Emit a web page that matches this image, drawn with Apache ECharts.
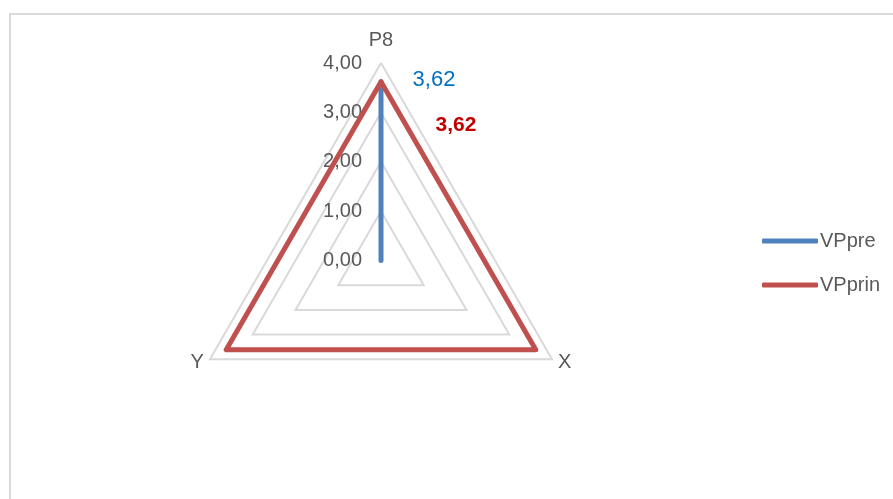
<!DOCTYPE html>
<html><head><meta charset="utf-8">
<script src="https://cdn.jsdelivr.net/npm/echarts@6/dist/echarts.min.js"></script>
<style>html,body{margin:0;padding:0;background:#fff}#c{width:893px;height:499px}</style>
</head><body><div id="c"></div>
<script>
// Data
const categories = ['P8', 'X', 'Y'];
const seriesNames = ['VPpre', 'VPprin'];
const vppre = [3.62, 0, 0];
const vpprin = [3.62, 3.62, 3.62];
const axisMin = 0, axisMax = 4, axisSplits = 4;

const fmt = v => Number(v).toFixed(2).replace('.', ',');
// ECharts places indicators counter-clockwise; Excel clockwise: reorder
const order = [0, 2, 1];
const perm = arr => order.map(i => arr[i]);

const FONT = '"Liberation Sans", Arial, sans-serif';
const GREY = '#595959';

const indicator = perm(categories).map((n, i) => ({
  name: n, min: axisMin, max: axisMax,
  nameGap: i === 0 ? 13 : 7,
  axisLabel: { show: i === 0 }
}));

const chart = echarts.init(document.getElementById('c'));
chart.setOption({
  animation: false,
  backgroundColor: '#fff',
  graphic: [{
    type: 'rect', left: 9, top: 13, z: -1,
    shape: { width: 900, height: 500 },
    style: { fill: '#fff', stroke: '#d9d9d9', lineWidth: 2 }
  }],
  legend: {
    data: seriesNames,
    orient: 'vertical',
    left: 762, top: 231, padding: 0,
    itemWidth: 56, itemHeight: 5, itemGap: 24,
    icon: 'roundRect',
    textStyle: { fontFamily: FONT, fontSize: 20, color: GREY, padding: [0, 0, 0, -3] }
  },
  radar: {
    center: [381, 260.5],
    radius: 197.5,
    shape: 'polygon',
    splitNumber: axisSplits,
    indicator: indicator,
    axisName: { color: GREY, fontFamily: FONT, fontSize: 20 },
    axisLine: { show: false },
    axisTick: { show: false },
    splitLine: { lineStyle: { color: '#d9d9d9', width: 2 } },
    splitArea: { show: false },
    axisLabel: {
      show: true, color: GREY, fontFamily: FONT, fontSize: 20,
      margin: 19, padding: [9, 0, 0, 0],
      formatter: v => fmt(v)
    }
  },
  series: [{
    type: 'radar',
    symbol: 'none',
    data: [
      { name: seriesNames[0], value: perm(vppre),
        lineStyle: { color: '#4f81bd', width: 5, cap: 'round', join: 'round' },
        itemStyle: { color: '#4f81bd' } },
      { name: seriesNames[1], value: perm(vpprin),
        lineStyle: { color: '#c0504d', width: 5, cap: 'round', join: 'round' },
        itemStyle: { color: '#c0504d' } }
    ]
  }, {
    // label carriers (data labels on the P8 point only)
    type: 'radar',
    symbol: 'circle', symbolSize: 1,
    silent: true,
    data: [
      { name: 'lbl1', value: perm([vppre[0], 0, 0]),
        lineStyle: { width: 0, opacity: 0 },
        itemStyle: { color: 'rgba(0,0,0,0)' },
        label: { show: true, position: 'inside', offset: [53, -2],
          formatter: p => (p.value ? fmt(p.value) : ''),
          color: '#0070c0', fontFamily: FONT, fontSize: 22 } },
      { name: 'lbl2', value: perm([vpprin[0], 0, 0]),
        lineStyle: { width: 0, opacity: 0 },
        itemStyle: { color: 'rgba(0,0,0,0)' },
        label: { show: true, position: 'inside', offset: [75, 43],
          formatter: p => (p.value ? fmt(p.value) : ''),
          color: '#c00000', fontFamily: FONT, fontSize: 21, fontWeight: 'bold' } }
    ]
  }]
});
</script></body></html>
